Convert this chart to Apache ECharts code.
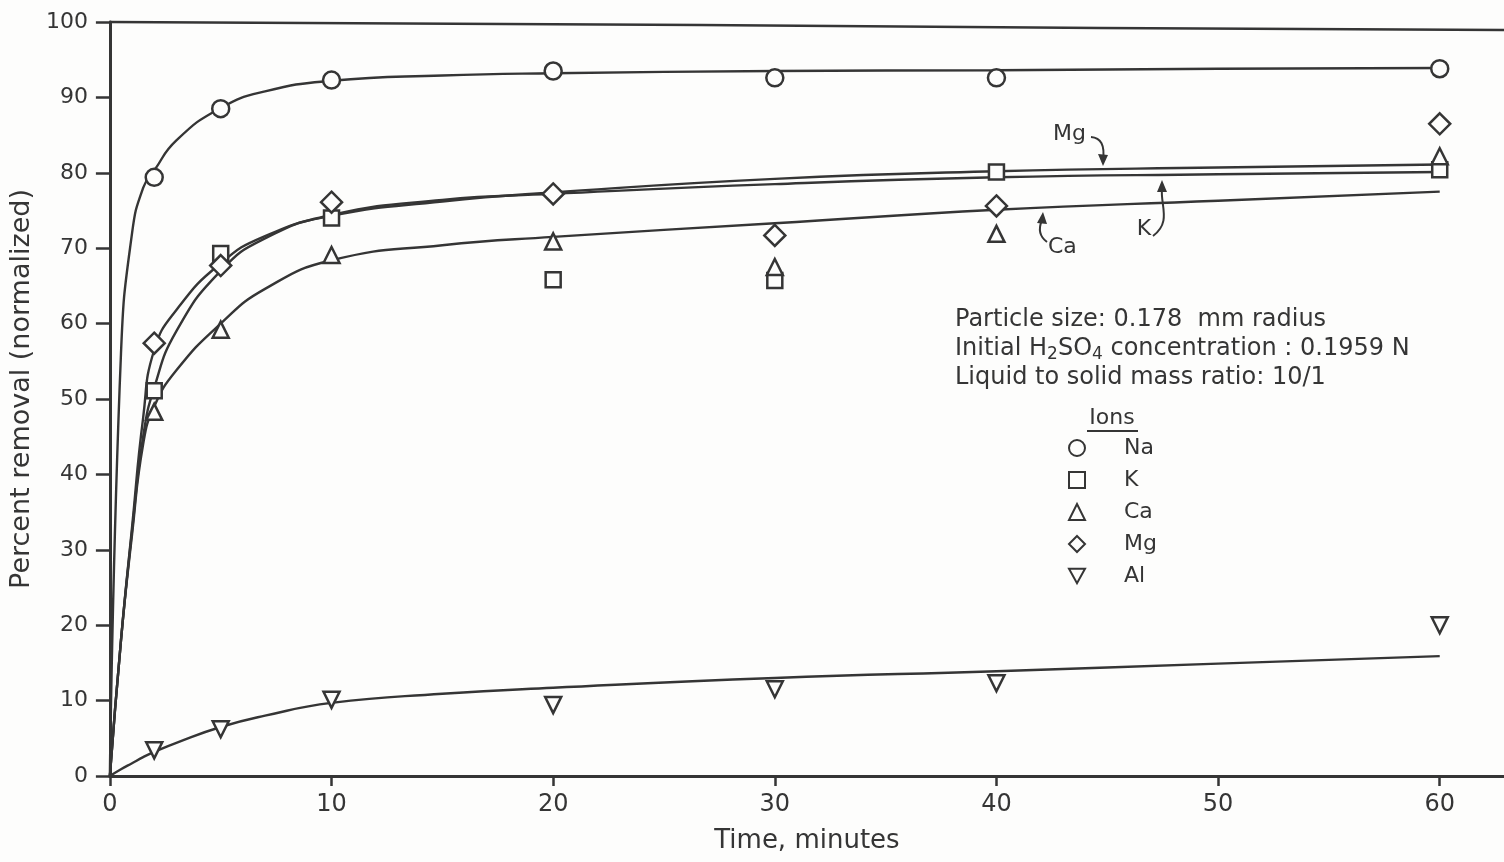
<!DOCTYPE html>
<html>
<head>
<meta charset="utf-8">
<script src="https://cdn.jsdelivr.net/npm/echarts@6/dist/echarts.min.js"></script>
<style>
  html, body { margin: 0; padding: 0; background: #fdfdfc; }
  #chart { width: 1504px; height: 862px; }
</style>
</head>
<body>
<div id="chart"></div>
<script>
// measured times (minutes)
const timePoints = [2, 5, 10, 20, 30, 40, 60]
const naPts = [79.4, 88.5, 92.3, 93.5, 92.6, 92.6, 93.8]
const kPts = [51.1, 69.3, 74.0, 65.8, 65.7, 80.1, 80.4]
const caPts = [48.3, 59.2, 69.1, 70.9, 67.5, 71.9, 82.2]
const mgPts = [57.4, 67.7, 76.1, 77.2, 71.7, 75.6, 86.5]
const alPts = [3.4, 6.2, 10.1, 9.4, 11.5, 12.3, 20.0]

// hand-drawn fitted curves
const curveT = [0, 0.5, 1, 1.5, 2, 3, 5, 7, 10, 15, 20, 30, 40, 50, 60]
const naCurve = [0, 56, 72, 78, 80.3, 84.3, 88.6, 90.8, 92.2, 92.9, 93.2, 93.5, 93.6, 93.8, 93.9]
const kCurve = [0, 18, 32.5, 45, 51.5, 59, 67, 71.3, 74.4, 76.4, 77.2, 78.5, 79.4, 79.8, 80.1]
const mgCurve = [0, 18, 33, 47.5, 56.5, 61.8, 68, 71.6, 74.3, 76.2, 77.4, 79.2, 80.2, 80.7, 81.1]
const caCurve = [0, 18, 32, 44, 49, 53.8, 60, 64.6, 68.4, 70.4, 71.5, 73.3, 75.1, 76.3, 77.5]
const alCurve = [0, 0.9, 1.7, 2.5, 3.2, 4.4, 6.5, 8.0, 9.7, 10.9, 11.7, 13.0, 13.9, 14.9, 15.9]

const xTicks = [0, 10, 20, 30, 40, 50, 60]
const ionNames = ['Na', 'K', 'Ca', 'Mg', 'Al']

const ink = '#353535'
const font = 'DejaVu Sans'
const downTriangle = 'path://M0,0L20,0L10,18Z'

function pairs (xs, ys) {
  return xs.map((x, i) => [x, ys[i]])
}

function pointSeries (name, ys, symbol, size) {
  return {
    name: name,
    type: 'scatter',
    data: pairs(timePoints, ys),
    symbol: symbol,
    symbolSize: size,
    itemStyle: { color: '#fdfdfc', borderColor: ink, borderWidth: 2.5, opacity: 1 },
    z: 5
  }
}

function curveSeries (name, ys) {
  return {
    name: name,
    type: 'line',
    data: pairs(curveT, ys),
    smooth: 0.5,
    showSymbol: false,
    lineStyle: { color: ink, width: 2.4 },
    z: 2
  }
}

const chart = echarts.init(document.getElementById('chart'))
chart.setOption({
  backgroundColor: '#fdfdfc',
  animation: false,
  textStyle: { fontFamily: font, color: ink },
  grid: { left: 109, right: 0, top: 22, bottom: 86 },
  legend: {
    data: ionNames,
    orient: 'vertical',
    left: 1063,
    top: 432,
    itemGap: 10,
    itemWidth: 16,
    itemHeight: 16,
    selectedMode: false,
    textStyle: { fontFamily: font, fontSize: 22, color: ink, padding: [0, 0, 0, 34] }
  },
  xAxis: {
    type: 'value',
    min: 0,
    max: 62.9,
    name: 'Time, minutes',
    nameLocation: 'middle',
    nameGap: 52,
    nameTextStyle: { fontFamily: font, fontSize: 26, color: ink },
    splitLine: { show: false },
    axisLine: { lineStyle: { color: ink, width: 3 } },
    axisTick: { customValues: xTicks, length: 10, lineStyle: { color: ink, width: 2.5 } },
    axisLabel: { customValues: xTicks, margin: 17, fontFamily: font, fontSize: 24, color: ink }
  },
  yAxis: {
    type: 'value',
    min: 0,
    max: 100,
    interval: 10,
    name: 'Percent removal (normalized)',
    nameLocation: 'middle',
    nameGap: 64,
    nameTextStyle: { fontFamily: font, fontSize: 27, color: ink, padding: [0, 0, 0, 20] },
    splitLine: { show: false },
    axisLine: { show: true, lineStyle: { color: ink, width: 3 } },
    axisTick: { show: true, length: 14, lineStyle: { color: ink, width: 2.5 } },
    axisLabel: { margin: 22, fontFamily: font, fontSize: 22, color: ink }
  },
  series: [
    curveSeries('Na curve', naCurve),
    curveSeries('K curve', kCurve),
    curveSeries('Mg curve', mgCurve),
    curveSeries('Ca curve', caCurve),
    curveSeries('Al curve', alCurve),
    pointSeries('Na', naPts, 'circle', 17),
    pointSeries('K', kPts, 'rect', 15),
    pointSeries('Ca', caPts, 'triangle', 16),
    pointSeries('Mg', mgPts, 'diamond', 21),
    pointSeries('Al', alPts, downTriangle, 16)
  ],
  graphic: [
    // top frame line, drawn slightly off level as in the original sheet
    { type: 'polyline', shape: { points: [[109, 22], [700, 25], [1100, 28], [1504, 30]] }, style: { stroke: ink, lineWidth: 2.5, fill: null } },
    {
      type: 'text',
      left: 955,
      top: 305,
      style: {
        text: 'Particle size: 0.178  mm radius\nInitial {t|H}{s|2}{t|SO}{s|4}{t| concentration : 0.1959 N}\nLiquid to solid mass ratio: 10/1',
        font: '24px "DejaVu Sans"',
        fill: ink,
        lineHeight: 29,
        rich: {
          t: { fontSize: 24, fontFamily: font, fill: ink, lineHeight: 29 },
          s: { fontSize: 17, fontFamily: font, fill: ink, padding: [12, 0, 0, 0], lineHeight: 29 }
        }
      }
    },
    { type: 'text', x: 1112, y: 418, style: { text: 'Ions', font: '22px "DejaVu Sans"', fill: ink, align: 'center', verticalAlign: 'middle' } },
    { type: 'line', shape: { x1: 1087, y1: 431, x2: 1138, y2: 431 }, style: { stroke: ink, lineWidth: 2 } },
    // curve labels and their arrows
    { type: 'text', x: 1053, y: 134, style: { text: 'Mg', font: '22px "DejaVu Sans"', fill: ink, verticalAlign: 'middle' } },
    { type: 'bezierCurve', shape: { x1: 1091, y1: 137, cpx1: 1106, cpy1: 138, x2: 1103, y2: 160 }, style: { stroke: ink, lineWidth: 2, fill: null } },
    { type: 'polygon', shape: { points: [[1098, 154], [1103, 166], [1108, 155]] }, style: { fill: ink } },
    { type: 'text', x: 1144, y: 229, style: { text: 'K', font: '22px "DejaVu Sans"', fill: ink, align: 'center', verticalAlign: 'middle' } },
    { type: 'bezierCurve', shape: { x1: 1153, y1: 236, cpx1: 1172, cpy1: 222, cpx2: 1160, cpy2: 205, x2: 1162, y2: 188 }, style: { stroke: ink, lineWidth: 2, fill: null } },
    { type: 'polygon', shape: { points: [[1157, 192], [1162, 180], [1167, 192]] }, style: { fill: ink } },
    { type: 'text', x: 1048, y: 247, style: { text: 'Ca', font: '22px "DejaVu Sans"', fill: ink, verticalAlign: 'middle' } },
    { type: 'bezierCurve', shape: { x1: 1047, y1: 242, cpx1: 1036, cpy1: 234, x2: 1042, y2: 220 }, style: { stroke: ink, lineWidth: 2, fill: null } },
    { type: 'polygon', shape: { points: [[1037, 223], [1043, 212], [1047, 224]] }, style: { fill: ink } }
  ]
})
</script>
</body>
</html>
